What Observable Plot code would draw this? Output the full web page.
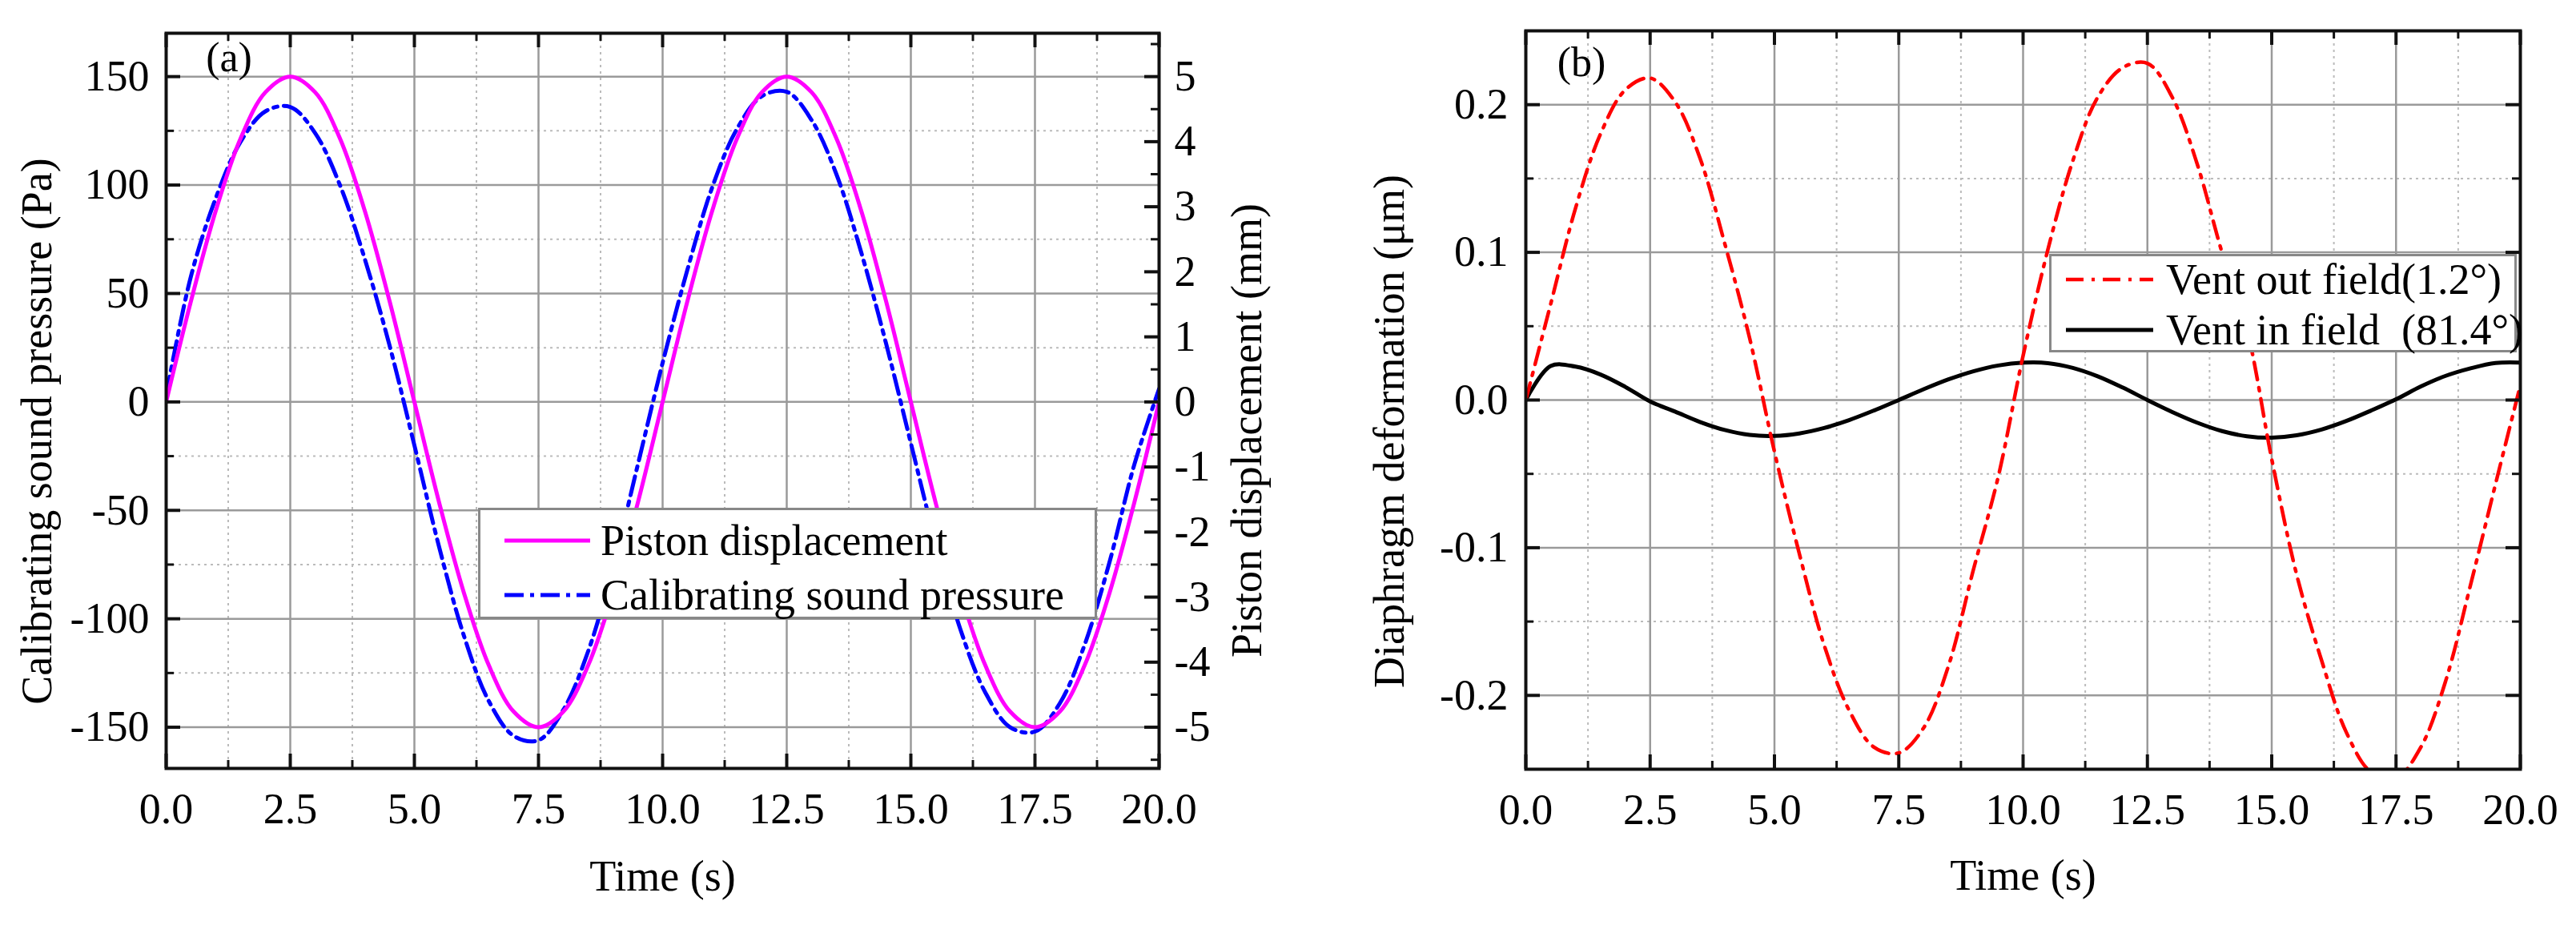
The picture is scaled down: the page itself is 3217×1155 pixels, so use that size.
<!DOCTYPE html>
<html>
<head>
<meta charset="utf-8">
<script src="https://cdn.jsdelivr.net/npm/d3@7"></script>
<script src="https://cdn.jsdelivr.net/npm/@observablehq/plot@0.6"></script>
<style>
  html, body { margin: 0; padding: 0; background: #fff; overflow: hidden; }
  #page { position: relative; width: 3217px; height: 1155px; background: #fff;
          font-family: "Liberation Serif", "Times New Roman", serif; color: #000; }
  #chart-a { position: absolute; left: 0; top: 0; }
  #chart-b { position: absolute; left: 1640px; top: 0; }
  .legend { position: absolute; box-sizing: border-box; background: #fff;
            border: 3px solid #888; font-size: 54px; }
  .legend .row { position: absolute; left: 0; height: 64px; display: flex;
                 align-items: center; white-space: pre; transform: translateY(-50%); }
  .legend svg { display: block; }
  .tag { position: absolute; font-size: 52px; transform: translate(-50%, -50%); }
</style>
</head>
<body>
<div id="page">
  <div id="chart-a"></div>
  <div id="chart-b"></div>
  <div class="tag" style="left:286px; top:71px;">(a)</div>
  <div class="tag" style="left:1975px; top:77px;">(b)</div>
  <div id="legend-a" class="legend" style="left:597px; top:634px; width:773px; height:139px;"></div>
  <div id="legend-b" class="legend" style="left:2559px; top:317px; width:584px; height:123px;"></div>
</div>
<script>
// ---- data (0.5 s steps) ----
const timeA = [0, 0.5, 1, 1.5, 2, 2.5, 3, 3.5, 4, 4.5, 5, 5.5, 6, 6.5, 7, 7.5, 8, 8.5, 9, 9.5,
  10, 10.5, 11, 11.5, 12, 12.5, 13, 13.5, 14, 14.5, 15, 15.5, 16, 16.5, 17, 17.5, 18, 18.5, 19, 19.5, 20];
// piston displacement, mm (right axis)
const pistonMm = [0, 1.55, 2.94, 4.05, 4.76, 5.0, 4.76, 4.05, 2.94, 1.55,
  0, -1.55, -2.94, -4.05, -4.76, -5.0, -4.76, -4.05, -2.94, -1.55,
  0, 1.55, 2.94, 4.05, 4.76, 5.0, 4.76, 4.05, 2.94, 1.55,
  0, -1.55, -2.94, -4.05, -4.76, -5.0, -4.76, -4.05, -2.94, -1.55, 0];
// calibrating sound pressure, Pa (left axis)
const soundPa = [3, 58, 94, 120, 134, 136, 124, 100, 66, 26,
  -20, -67, -108, -138, -154, -156, -142, -115, -76, -29,
  18, 61, 99, 126, 141, 143, 130, 105, 69, 27,
  -19, -65, -105, -134, -150, -152, -139, -112, -74, -29, 6];

const timeB = timeA;
// diaphragm deformation, um
const ventOut = [0, 0.065, 0.13, 0.18, 0.21, 0.218, 0.202, 0.164, 0.106, 0.042,
  -0.035, -0.104, -0.166, -0.21, -0.235, -0.239, -0.222, -0.18, -0.115, -0.052,
  0.03, 0.102, 0.162, 0.205, 0.225, 0.228, 0.205, 0.16, 0.1, 0.048,
  -0.04, -0.118, -0.176, -0.225, -0.252, -0.256, -0.235, -0.19, -0.125, -0.057, 0.01];
const ventIn = [0, 0.023, 0.0226, 0.0173, 0.0089, -0.001, -0.0078, -0.0148, -0.0203, -0.0236,
  -0.0243, -0.0226, -0.0189, -0.0136, -0.0071, 0, 0.0073, 0.014, 0.0195, 0.0234,
  0.0253, 0.025, 0.0218, 0.0161, 0.0085, 0, -0.0081, -0.0153, -0.021, -0.0245,
  -0.0255, -0.0239, -0.02, -0.0142, -0.0071, 0.0005, 0.0092, 0.0164, 0.0215, 0.0251, 0.0254];

// ---- ticks ----
const xMajor = [0, 2.5, 5, 7.5, 10, 12.5, 15, 17.5, 20];
const xMinor = [1.25, 3.75, 6.25, 8.75, 11.25, 13.75, 16.25, 18.75];
const paMajor = [-150, -100, -50, 0, 50, 100, 150];
const paMinor = [-125, -75, -25, 25, 75, 125];
const mmMajor = [-5, -4, -3, -2, -1, 0, 1, 2, 3, 4, 5];
const mmMinor = [-5.5, -4.5, -3.5, -2.5, -1.5, -0.5, 0.5, 1.5, 2.5, 3.5, 4.5, 5.5];
const umMajor = [-0.2, -0.1, 0, 0.1, 0.2];
const umMinor = [-0.15, -0.05, 0.05, 0.15];

const mmToPa = 30; // 5 mm on the right axis is level with 150 Pa on the left

const font = "'Liberation Serif', 'Times New Roman', serif";
const ink = "#111";

// grid lines
function frameDecor(yMaj, yMin) {
  return [
    Plot.ruleX(xMinor, {stroke: "#bbb", strokeWidth: 2, strokeDasharray: "3,5"}),
    Plot.ruleY(yMin, {stroke: "#bbb", strokeWidth: 2, strokeDasharray: "3,5"}),
    Plot.ruleX(xMajor, {stroke: "#9a9a9a", strokeWidth: 2.5}),
    Plot.ruleY(yMaj, {stroke: "#9a9a9a", strokeWidth: 2.5})
  ];
}
// inward ticks on all four sides + frame
function frameTicks(plotW, plotH, yMaj, yMin, yMajRight, yMinRight) {
  const maj = 18, min = 10;
  return [
    Plot.tickX(xMajor, {x: d => d, insetTop: plotH - maj, stroke: ink, strokeWidth: 4}),
    Plot.tickX(xMinor, {x: d => d, insetTop: plotH - min, stroke: ink, strokeWidth: 3}),
    Plot.tickX(xMajor, {x: d => d, insetBottom: plotH - maj, stroke: ink, strokeWidth: 4}),
    Plot.tickX(xMinor, {x: d => d, insetBottom: plotH - min, stroke: ink, strokeWidth: 3}),
    Plot.tickY(yMaj, {y: d => d, insetRight: plotW - maj, stroke: ink, strokeWidth: 4}),
    Plot.tickY(yMin, {y: d => d, insetRight: plotW - min, stroke: ink, strokeWidth: 3}),
    Plot.tickY(yMajRight, {y: d => d, insetLeft: plotW - maj, stroke: ink, strokeWidth: 4}),
    Plot.tickY(yMinRight, {y: d => d, insetLeft: plotW - min, stroke: ink, strokeWidth: 3}),
    Plot.frame({stroke: ink, strokeWidth: 4})
  ];
}

const xFmt = d => d.toFixed(1);

// ---- panel (a) ----
const rowsA = timeA.map((t, i) => ({t, pa: soundPa[i], mm: pistonMm[i]}));
const chartA = Plot.plot({
  width: 1640,
  height: 1155,
  marginLeft: 207,
  marginRight: 193,
  marginTop: 41,
  marginBottom: 196,
  style: {fontFamily: font, fontSize: "54px", color: "#000", background: "#fff"},
  x: {domain: [0, 20]},
  y: {domain: [-169, 170]},
  marks: [
    ...frameDecor(paMajor, paMinor),
    Plot.line(rowsA, {x: "t", y: "pa", stroke: "#0000ff", strokeWidth: 5,
      strokeDasharray: "24,8,5,8", curve: "catmull-rom", clip: true}),
    Plot.line(rowsA, {x: "t", y: d => d.mm * mmToPa, stroke: "#ff00ff", strokeWidth: 5,
      curve: "catmull-rom", clip: true}),
    ...frameTicks(1240, 918, paMajor, paMinor,
      mmMajor.map(v => v * mmToPa), mmMinor.map(v => v * mmToPa)),
    Plot.axisX(xMajor, {tickSize: 0, tickPadding: 30, tickFormat: xFmt, label: null}),
    Plot.axisY(paMajor, {anchor: "left", tickSize: 0, tickPadding: 21, tickFormat: d => String(d), label: null}),
    Plot.axisY(mmMajor.map(v => v * mmToPa), {anchor: "right", tickSize: 0, tickPadding: 19,
      tickFormat: d => String(Math.round(d / mmToPa)), label: null}),
    Plot.text(["Time (s)"], {text: d => d, frameAnchor: "bottom", textAnchor: "middle", dy: 152}),
    Plot.text(["Calibrating sound pressure (Pa)"], {text: d => d, frameAnchor: "left",
      textAnchor: "middle", rotate: -90, dx: -161, dy: 38}),
    Plot.text(["Piston displacement (mm)"], {text: d => d, frameAnchor: "right",
      textAnchor: "middle", rotate: -90, dx: 110, dy: 37})
  ]
});
document.getElementById("chart-a").append(chartA);

// ---- panel (b) ----
const rowsB = timeB.map((t, i) => ({t, out: ventOut[i], inn: ventIn[i]}));
const chartB = Plot.plot({
  width: 1577,
  height: 1155,
  marginLeft: 265,
  marginRight: 70,
  marginTop: 38,
  marginBottom: 195,
  style: {fontFamily: font, fontSize: "54px", color: "#000", background: "#fff"},
  x: {domain: [0, 20]},
  y: {domain: [-0.25, 0.25]},
  marks: [
    ...frameDecor(umMajor, umMinor),
    Plot.line(rowsB, {x: "t", y: "inn", stroke: "#000", strokeWidth: 5, curve: "catmull-rom", clip: true}),
    Plot.line(rowsB, {x: "t", y: "out", stroke: "#ff0000", strokeWidth: 4.5,
      strokeDasharray: "22,10,4,10", curve: "catmull-rom", clip: true}),
    ...frameTicks(1242, 922, umMajor, umMinor, umMajor, umMinor),
    Plot.axisX(xMajor, {tickSize: 0, tickPadding: 30, tickFormat: xFmt, label: null}),
    Plot.axisY(umMajor, {anchor: "left", tickSize: 0, tickPadding: 22, tickFormat: d => d.toFixed(1), label: null}),
    Plot.text(["Time (s)"], {text: d => d, frameAnchor: "bottom", textAnchor: "middle", dy: 150}),
    Plot.text(["Diaphragm deformation (\u03bcm)"], {text: d => d, frameAnchor: "left",
      textAnchor: "middle", rotate: -90, dx: -170, dy: 39})
  ]
});
document.getElementById("chart-b").append(chartB);

// ---- legends ----
function legendRow(box, top, sampleLeft, sampleW, textLeft, color, dash, width, label) {
  const row = document.createElement("div");
  row.className = "row";
  row.style.top = top + "px";
  row.style.left = sampleLeft + "px";
  const sw = d3.create("svg").attr("width", textLeft - sampleLeft).attr("height", 12);
  sw.append("line").attr("x1", 0).attr("x2", sampleW).attr("y1", 6).attr("y2", 6)
    .attr("stroke", color).attr("stroke-width", width).attr("stroke-dasharray", dash);
  row.append(sw.node());
  const span = document.createElement("span");
  span.textContent = label;
  row.append(span);
  box.append(row);
}
const legA = document.getElementById("legend-a");
legendRow(legA, 38, 30, 107, 150, "#ff00ff", null, 5, "Piston displacement");
legendRow(legA, 106, 30, 107, 150, "#0000ff", "24,8,5,8", 5, "Calibrating sound pressure");
const legB = document.getElementById("legend-b");
legendRow(legB, 29, 18, 109, 143, "#ff0000", "22,10,4,10", 4.5, "Vent out field(1.2\u00b0)");
legendRow(legB, 92, 18, 109, 143, "#000", null, 5, "Vent in field  (81.4\u00b0)");
</script>
</body>
</html>
